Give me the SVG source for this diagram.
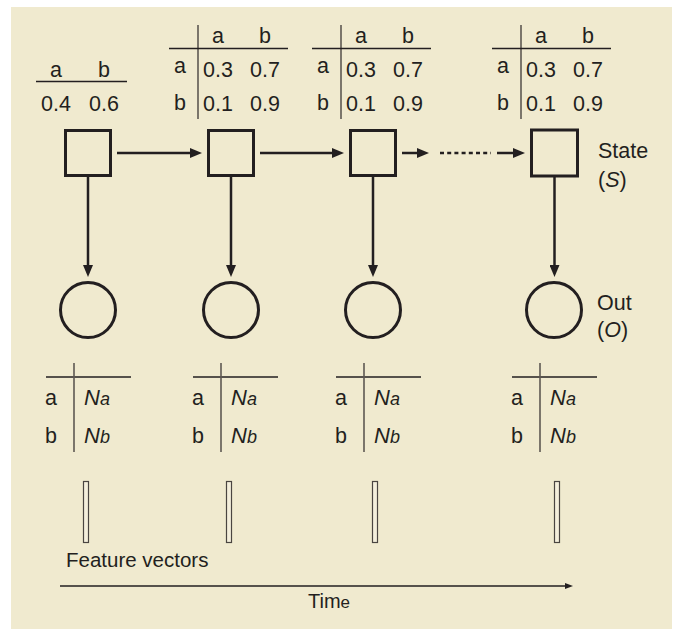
<svg xmlns="http://www.w3.org/2000/svg" width="677" height="629" viewBox="0 0 677 629">
  <style>
    text { font-family: "Liberation Sans", Arial, sans-serif; font-size: 21.5px; fill: #231F20; }
    .c { text-anchor: middle; }
    .it { font-style: italic; }
    .n { font-style: italic; font-size: 22px; }
    .sub { font-style: italic; font-size: 18px; }
    .rule { stroke: #231F20; stroke-width: 1.5; fill: none; }
    .vrule { stroke: #5E5852; stroke-width: 1.6; fill: none; }
    .state { fill: none; stroke: #231F20; stroke-width: 3; }
    .out { fill: none; stroke: #231F20; stroke-width: 3; }
    .edge { stroke: #231F20; stroke-width: 2.5; fill: none; }
    .dots { stroke: #231F20; stroke-width: 2.6; fill: none; stroke-dasharray: 4 3.2; }
    .axis { stroke: #231F20; stroke-width: 1.5; fill: none; }
    .fv { fill: #F4EFDC; stroke: #4A4541; stroke-width: 1.2; }
  </style>
  <defs>
    <marker id="head" markerUnits="userSpaceOnUse" markerWidth="12" markerHeight="10" refX="6" refY="5" orient="auto">
      <path d="M0,0 L12,5 L0,10 z" fill="#231F20"/>
    </marker>
    <marker id="headSmall" markerUnits="userSpaceOnUse" markerWidth="8" markerHeight="6" refX="3" refY="3" orient="auto">
      <path d="M0,0 L8,3 L0,6 z" fill="#231F20"/>
    </marker>
    <!-- transition probability table, drawn relative to its vertical rule -->
    <g id="transTable">
      <line class="vrule" x1="0" y1="25" x2="0" y2="119"/>
      <line class="rule" x1="-29" y1="48.5" x2="90" y2="48.5"/>
      <text class="c" x="20" y="43">a</text>
      <text class="c" x="67" y="43">b</text>
      <text class="c" x="-18" y="73">a</text>
      <text class="c" x="20" y="77">0.3</text>
      <text class="c" x="67" y="77">0.7</text>
      <text class="c" x="-18" y="110">b</text>
      <text class="c" x="20" y="110.5">0.1</text>
      <text class="c" x="67" y="110.5">0.9</text>
    </g>
    <!-- emission table, drawn relative to its left edge -->
    <g id="emitTable">
      <line class="rule" x1="0" y1="377" x2="85" y2="377"/>
      <line class="vrule" x1="28" y1="363" x2="28" y2="452"/>
      <text x="-1" y="405">a</text>
      <text x="-1" y="443">b</text>
      <text class="n" x="38" y="405">N<tspan class="sub">a</tspan></text>
      <text class="n" x="38" y="443">N<tspan class="sub">b</tspan></text>
    </g>
  </defs>

  <!-- panel -->
  <rect x="11" y="7" width="661" height="622" fill="#F0EACF"/>

  <!-- initial probabilities -->
  <g id="initial">
    <line class="rule" x1="36" y1="81.5" x2="127" y2="81.5"/>
    <text class="c" x="56" y="77">a</text>
    <text class="c" x="104" y="77">b</text>
    <text class="c" x="56" y="110.5">0.4</text>
    <text class="c" x="104" y="110.5">0.6</text>
  </g>

  <!-- transition tables -->
  <g id="trans1"><use href="#transTable" x="198"/></g>
  <g id="trans2"><use href="#transTable" x="341"/></g>
  <g id="trans3"><use href="#transTable" x="521"/></g>

  <!-- state nodes -->
  <g id="s1"><rect class="state" x="65.5" y="130.5" width="45" height="45"/></g>
  <g id="s2"><rect class="state" x="208.5" y="130.5" width="45" height="45"/></g>
  <g id="s3"><rect class="state" x="350.5" y="130.5" width="45" height="45"/></g>
  <g id="s4"><rect class="state" x="531.5" y="130" width="46" height="46"/></g>
  <g id="state-label">
    <text x="598" y="158">State</text>
    <text x="598" y="187">(<tspan class="it">S</tspan>)</text>
  </g>

  <!-- output nodes -->
  <g id="o1"><circle class="out" cx="88" cy="310" r="27.5"/></g>
  <g id="o2"><circle class="out" cx="231" cy="310" r="27.5"/></g>
  <g id="o3"><circle class="out" cx="373" cy="310" r="27.5"/></g>
  <g id="o4"><circle class="out" cx="554" cy="310" r="27.5"/></g>
  <g id="out-label">
    <text x="597" y="310">Out</text>
    <text x="597" y="337">(<tspan class="it">O</tspan>)</text>
  </g>

  <!-- emission tables -->
  <g id="emit1"><use href="#emitTable" x="46"/></g>
  <g id="emit2"><use href="#emitTable" x="193"/></g>
  <g id="emit3"><use href="#emitTable" x="336"/></g>
  <g id="emit4"><use href="#emitTable" x="512"/></g>

  <!-- feature vectors -->
  <g id="features">
    <rect class="fv" x="83.5" y="481.5" width="5" height="61"/>
    <rect class="fv" x="226.5" y="481.5" width="5" height="61"/>
    <rect class="fv" x="372.5" y="481.5" width="5" height="61"/>
    <rect class="fv" x="554.5" y="481.5" width="5" height="61"/>
    <text x="66" y="567" style="font-size:20.5px">Feature vectors</text>
  </g>

  <!-- connectors -->
  <g id="connectors">
    <line class="edge" x1="117" y1="153" x2="196" y2="153" marker-end="url(#head)"/>
    <line class="edge" x1="260" y1="153" x2="338" y2="153" marker-end="url(#head)"/>
    <line class="edge" x1="402" y1="153" x2="423" y2="153" marker-end="url(#head)"/>
    <line class="dots" x1="440" y1="153" x2="491" y2="153"/>
    <line class="edge" x1="497" y1="153" x2="519" y2="153" marker-end="url(#head)"/>
    <line class="edge" x1="88" y1="177" x2="88" y2="271" marker-end="url(#head)"/>
    <line class="edge" x1="231" y1="177" x2="231" y2="271" marker-end="url(#head)"/>
    <line class="edge" x1="373" y1="177" x2="373" y2="271" marker-end="url(#head)"/>
    <line class="edge" x1="554.5" y1="177" x2="554.5" y2="271" marker-end="url(#head)"/>
  </g>

  <!-- time axis -->
  <g id="time">
    <line class="axis" x1="60" y1="586" x2="568" y2="586" marker-end="url(#headSmall)"/>
    <text x="308" y="608" style="font-size:20px">Tim<tspan style="font-size:17px">e</tspan></text>
  </g>
</svg>
